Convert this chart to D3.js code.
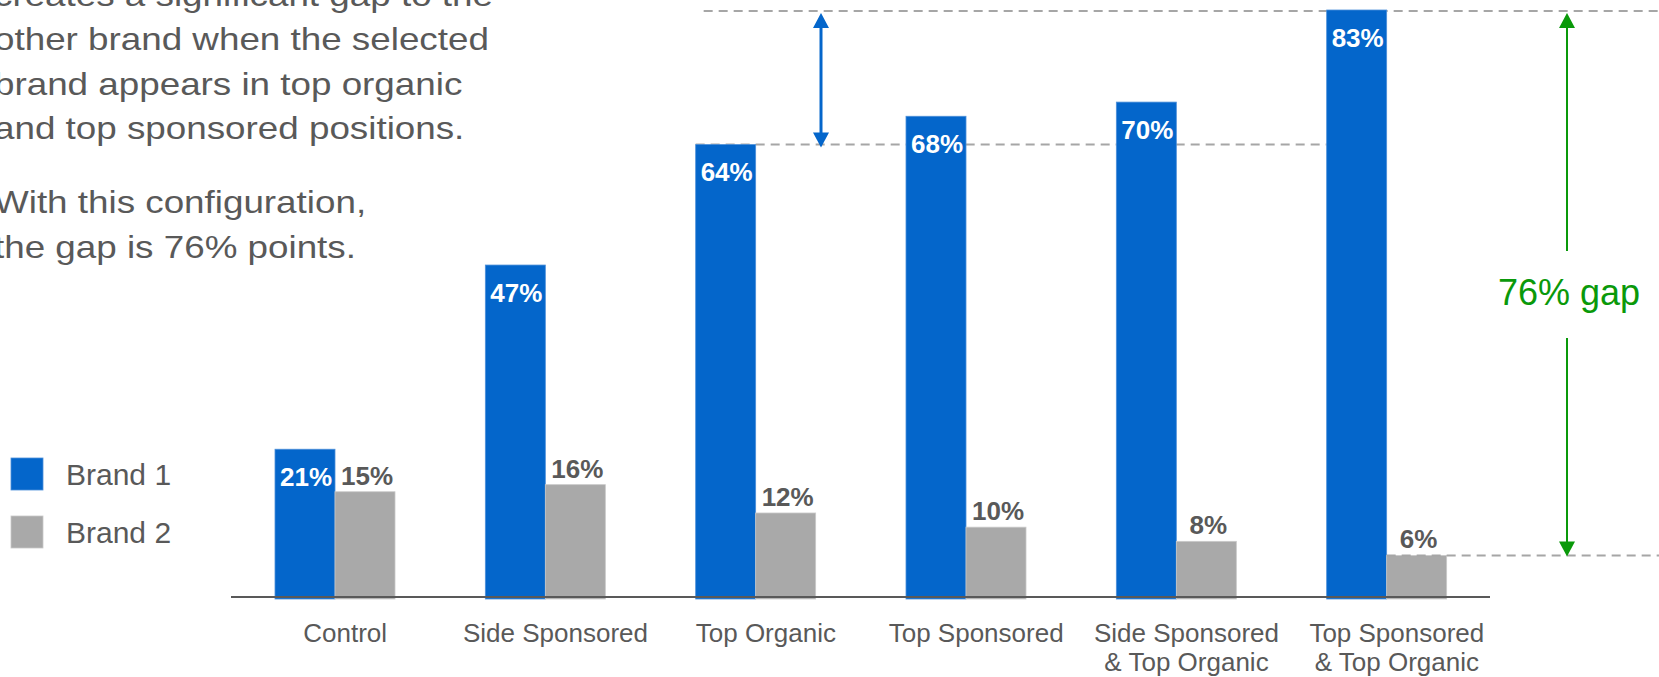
<!DOCTYPE html>
<html>
<head>
<meta charset="utf-8">
<script src="https://cdn.jsdelivr.net/npm/d3@7"></script>
<style>
  html, body { margin: 0; padding: 0; background: #ffffff; }
  svg { display: block; font-family: "Liberation Sans", Arial, Helvetica, sans-serif; }
</style>
</head>
<body>
<svg id="chart" width="1659" height="677"></svg>
<script>
// ---- data ----
const categories = [
  ["Control"],
  ["Side Sponsored"],
  ["Top Organic"],
  ["Top Sponsored"],
  ["Side Sponsored", "& Top Organic"],
  ["Top Sponsored", "& Top Organic"]
];
const brand1 = [21, 47, 64, 68, 70, 83];
const brand2 = [15, 16, 12, 10, 8, 6];
const seriesNames = ["Brand 1", "Brand 2"];
const gapLabel = "76% gap";
const noteLines = [
  ["creates a significant gap to the",
   "other brand when the selected",
   "brand appears in top organic",
   "and top sponsored positions."],
  ["With this configuration,",
   "the gap is 76% points."]
];

// ---- styles ----
const BLUE = "#0466cb", BLUE_EDGE = "#4d8fd9";
const GRAY = "#a9a9a9", GRAY_EDGE = "#c9c9c9";
const TEXT = "#595959", DASH = "#a6a6a6", GREEN = "#0a990a";

const svg = d3.select("#chart");
const keys = categories.map(c => c.join(" "));

const x0 = d3.scaleBand().domain(keys).range([240, 1502]).padding(0);
const x1 = d3.scaleBand().domain(seriesNames).range([35, 155]).padding(0);
const y = d3.scaleLinear().domain([0, 83]).range([598, 10]);

const rows = keys.map((k, i) => ({ key: k, lines: categories[i], values: [brand1[i], brand2[i]] }));

// ---- reference dashed lines behind bars ----
const iMax = brand1.indexOf(d3.max(brand1));
const iTO = 2;
const dashed = svg.append("g")
  .attr("stroke", DASH).attr("stroke-width", 2).attr("stroke-dasharray", "9,6").attr("fill", "none");
dashed.append("line")
  .attr("x1", x0(keys[iTO]) + x1("Brand 1") + 8).attr("x2", 1659)
  .attr("y1", y(brand1[iMax]) + 1).attr("y2", y(brand1[iMax]) + 1);
dashed.append("line")
  .attr("x1", x0(keys[iTO]) + x1("Brand 1")).attr("x2", x0(keys[iMax]) + x1("Brand 1"))
  .attr("y1", y(brand1[iTO])).attr("y2", y(brand1[iTO]));

// ---- bars ----
const groups = svg.append("g").selectAll("g")
  .data(rows).join("g")
  .attr("transform", d => `translate(${x0(d.key)},0)`);

groups.selectAll("rect")
  .data(d => d.values.map((v, j) => ({ name: seriesNames[j], v })))
  .join("rect")
  .attr("x", d => x1(d.name))
  .attr("width", x1.bandwidth())
  .attr("y", d => y(d.v))
  .attr("height", d => y(0) - y(d.v) + 1)
  .attr("fill", d => d.name === "Brand 1" ? BLUE : GRAY)
  .attr("stroke", d => d.name === "Brand 1" ? BLUE_EDGE : GRAY_EDGE)
  .attr("stroke-width", 0.8);

// value labels: inside the top of Brand 1 bars, above Brand 2 bars
groups.selectAll("text.val")
  .data(d => d.values.map((v, j) => ({ name: seriesNames[j], v })))
  .join("text")
  .attr("class", "val")
  .attr("x", d => x1(d.name) + x1.bandwidth() / 2 + (d.name === "Brand 1" ? 1 : 2))
  .attr("y", d => d.name === "Brand 1" ? y(d.v) + 36.5 : y(d.v) - 7)
  .attr("text-anchor", "middle")
  .attr("font-size", 26)
  .attr("font-weight", "bold")
  .attr("fill", d => d.name === "Brand 1" ? "#ffffff" : TEXT)
  .text(d => d.v + "%");

// ---- baseline ----
svg.append("line")
  .attr("x1", 231).attr("x2", 1490)
  .attr("y1", y(0) - 1).attr("y2", y(0) - 1)
  .attr("stroke", TEXT).attr("stroke-width", 2);

// ---- category labels ----
const catText = svg.append("g").selectAll("text")
  .data(rows).join("text")
  .attr("x", d => x0(d.key) + x0.bandwidth() / 2)
  .attr("y", 642)
  .attr("text-anchor", "middle")
  .attr("font-size", 26)
  .attr("fill", TEXT);
catText.selectAll("tspan")
  .data(d => d.lines)
  .join("tspan")
  .attr("x", function () { return d3.select(this.parentNode).attr("x"); })
  .attr("dy", (d, i) => i === 0 ? 0 : 29)
  .text(d => d);

// ---- low reference line over the smallest bar ----
const iMin = brand2.indexOf(d3.min(brand2));
svg.append("line")
  .attr("x1", x0(keys[iMin]) + x1("Brand 2")).attr("x2", 1659)
  .attr("y1", y(brand2[iMin])).attr("y2", y(brand2[iMin]))
  .attr("stroke", DASH).attr("stroke-width", 2).attr("stroke-dasharray", "9,6");

// ---- arrows ----
function arrowHead(g, x, yTip, dir, color, w, h) {
  // dir = -1 pointing up, +1 pointing down
  g.append("path")
    .attr("d", `M${x},${yTip} L${x - w / 2},${yTip - dir * h} L${x + w / 2},${yTip - dir * h} Z`)
    .attr("fill", color);
}
const arrows = svg.append("g");

// blue double arrow between Top Organic and Top Sponsored
const xb = x0(keys[3]) + x1("Brand 1") - 85;
const yTop = y(brand1[iMax]) + 3, yLow = y(brand1[iTO]) + 3;
arrows.append("line")
  .attr("x1", xb).attr("x2", xb).attr("y1", yTop + 10).attr("y2", yLow - 10)
  .attr("stroke", BLUE).attr("stroke-width", 3);
arrowHead(arrows, xb, yTop, -1, BLUE, 16, 15);
arrowHead(arrows, xb, yLow, 1, BLUE, 16, 15);

// green gap arrow at the right
const xg = 1567;
const gTop = y(brand1[iMax]) + 3, gLow = y(brand2[iMin]) + 1;
arrows.append("line")
  .attr("x1", xg).attr("x2", xg).attr("y1", gTop + 10).attr("y2", 251)
  .attr("stroke", GREEN).attr("stroke-width", 2);
arrows.append("line")
  .attr("x1", xg).attr("x2", xg).attr("y1", 338).attr("y2", gLow - 10)
  .attr("stroke", GREEN).attr("stroke-width", 2);
arrowHead(arrows, xg, gTop, -1, GREEN, 16, 15);
arrowHead(arrows, xg, gLow, 1, GREEN, 16, 15);

svg.append("text")
  .attr("x", 1569).attr("y", 305)
  .attr("text-anchor", "middle")
  .attr("font-size", 36)
  .attr("fill", GREEN)
  .text(gapLabel);

// ---- legend ----
const legend = svg.append("g").selectAll("g")
  .data(seriesNames).join("g")
  .attr("transform", (d, i) => `translate(11,${458 + i * 58})`);
legend.append("rect")
  .attr("width", 32).attr("height", 32)
  .attr("fill", (d, i) => i === 0 ? BLUE : GRAY)
  .attr("stroke", (d, i) => i === 0 ? BLUE_EDGE : GRAY_EDGE)
  .attr("stroke-width", 0.8);
legend.append("text")
  .attr("x", 55).attr("y", 27)
  .attr("font-size", 30)
  .attr("fill", TEXT)
  .text(d => d);

// ---- note text at top left ----
const note = svg.append("g");
let base = 5.5;
noteLines.forEach((para, p) => {
  if (p > 0) base += 29.5;
  para.forEach((line, i) => {
    note.append("text")
      .attr("transform", `translate(-6,${base}) scale(1.15,1)`)
      .attr("font-size", 32)
      .attr("fill", TEXT)
      .text(line);
    base += 44.5;
  });
  base -= 44.5;
  base += 44.5;
});
</script>
</body>
</html>
